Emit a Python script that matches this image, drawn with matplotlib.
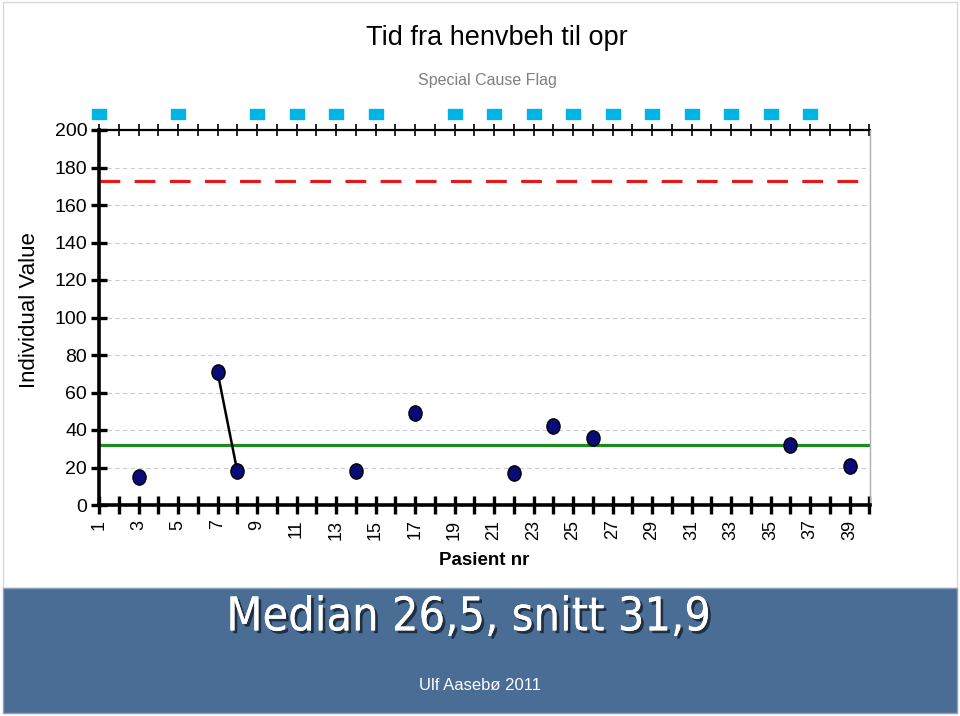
import numpy as np
import pandas as pd
import matplotlib
matplotlib.use("Agg")
import matplotlib.pyplot as plt
from matplotlib.path import Path
from matplotlib.transforms import Affine2D
from matplotlib.patches import Rectangle
import matplotlib.patheffects as pe

# data
patients = [3, 7, 8, 14, 17, 22, 24, 26, 36, 39]
values = [15, 71, 18, 18, 49, 17, 42, 36, 32, 21]
flag_patients = [1, 5, 9, 11, 13, 15, 19, 21, 23, 25, 27, 29, 31, 33, 35, 37]
mean_value = 31.9
ucl_value = 173
n_patients = 40

title = "Tid fra henvbeh til opr"
subtitle = "Special Cause Flag"
xlabel = "Pasient nr"
ylabel = "Individual Value"
banner_text = "Median 26,5, snitt 31,9"
footer_text = "Ulf Aasebø 2011"

plt.rcParams["font.family"] = ["Liberation Sans", "DejaVu Sans"]

fig = plt.figure(figsize=(9.6, 7.16), dpi=100)
fig.patch.set_facecolor("white")

# slide frame and blue banner
fig.patches.append(Rectangle((3 / 960, 128 / 716), 954 / 960, 586 / 716,
                             transform=fig.transFigure, fill=False,
                             edgecolor="#d8d8d8", linewidth=1))
fig.patches.append(Rectangle((3 / 960, 3 / 716), 954 / 960, 125 / 716,
                             transform=fig.transFigure, facecolor="#4a6d96",
                             edgecolor="#8aa0bc", linewidth=1))

ax = fig.add_axes([99 / 960, 1 - 505 / 716, 771 / 960, 375 / 716])

series = pd.Series(values, index=patients).reindex(range(1, n_patients + 1))

ax.axhline(mean_value, color="#1f8a1f", linewidth=2.3, zorder=2)
ax.axhline(ucl_value, color="#e31a1c", linewidth=2.3, dashes=(6.5, 4.5), zorder=2)

ellipse = Path.unit_circle().transformed(Affine2D().scale(0.86, 1.0))
ax.plot(series.index, series.values, color="black", linewidth=1.8, zorder=3)
ax.plot(patients, values, linestyle="none", marker=ellipse, markersize=11,
        markerfacecolor="#0b0b78", markeredgecolor="black", markeredgewidth=1.0,
        zorder=4)

# special cause flags above the chart
rect = Path([(-1, -0.7), (1, -0.7), (1, 0.7), (-1, 0.7), (-1, -0.7)],
            [Path.MOVETO, Path.LINETO, Path.LINETO, Path.LINETO, Path.CLOSEPOLY])
flag_y = 208.5
ax.plot(flag_patients, [flag_y] * len(flag_patients), linestyle="none",
        marker=rect, markersize=10, markerfacecolor="#00b4e6",
        markeredgecolor="#00b4e6", clip_on=False, zorder=5)

ax.set_xlim(1, 40.03)
ax.set_ylim(0, 200)

ax.set_yticks(np.arange(0, 201, 20))
ax.set_xticks(range(1, n_patients + 1))
ax.set_xticklabels([str(i) if i % 2 == 1 else "" for i in range(1, n_patients + 1)],
                   rotation=90)
for lab in ax.get_xticklabels():
    lab.set_fontsize(13)
for lab in ax.get_yticklabels():
    lab.set_fontsize(14)

ax.tick_params(axis="x", direction="inout", length=13, width=2.4, pad=4, color="black")
ax.tick_params(axis="y", direction="inout", length=11, width=2.4, pad=3, color="black")

for y in range(20, 200, 20):
    ax.axhline(y, color="#cccccc", linewidth=0.8, dashes=(4, 3), zorder=1)

ax.spines["left"].set_linewidth(2.6)
ax.spines["bottom"].set_linewidth(2.6)
ax.spines["right"].set_color("#b0b0b0")
ax.spines["right"].set_linewidth(1)
ax.spines["top"].set_visible(False)

top = ax.secondary_xaxis("top")
top.set_xticks(range(1, n_patients + 1))
top.tick_params(direction="inout", length=8, width=1.2, labeltop=False)
top.spines["top"].set_linewidth(1.6)

ax.set_xlabel(xlabel, fontsize=13.5, fontweight="bold", labelpad=9)
ax.set_ylabel(ylabel, fontsize=16)
ax.yaxis.set_label_coords(-0.077, 0.52)

fig.text(0.518, 0.947, title, ha="center", va="center", fontsize=19.5)
fig.text(0.508, 0.888, subtitle, ha="center", va="center", fontsize=11.5,
         color="#7f7f7f")

fig.text(0.488, 0.137, banner_text, ha="center", va="center", fontsize=33.5,
         color="white", family="DejaVu Sans", fontstretch="condensed",
         path_effects=[pe.withSimplePatchShadow(offset=(2, -2),
                                                shadow_rgbFace="#1b2838", alpha=0.9),
                       pe.Normal()])
fig.text(0.5, 0.043, footer_text, ha="center", va="center", fontsize=12,
         color="white")

fig.savefig("out.png", dpi=100)
